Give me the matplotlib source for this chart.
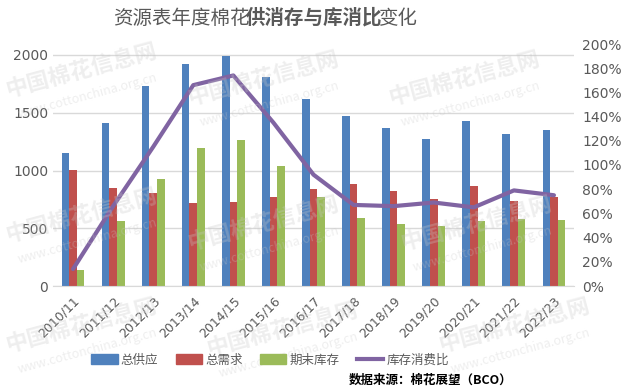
import matplotlib
matplotlib.use("Agg")
import matplotlib.pyplot as plt
import numpy as np
from matplotlib.lines import Line2D
from matplotlib.patches import Patch

plt.rcParams['font.family'] = ['Noto Sans CJK SC', 'DejaVu Sans']

years = ['2010/11', '2011/12', '2012/13', '2013/14', '2014/15', '2015/16', '2016/17',
         '2017/18', '2018/19', '2019/20', '2020/21', '2021/22', '2022/23']
supply = [1150, 1414, 1732, 1923, 1995, 1813, 1619, 1472, 1368, 1273, 1429, 1316, 1354]
demand = [1005, 851, 808, 722, 727, 774, 840, 883, 823, 753, 869, 736, 773]
stock = [140, 563, 929, 1198, 1264, 1042, 773, 589, 540, 520, 563, 583, 572]
ratio = [14, 66, 115, 166, 174, 135, 92, 67, 66, 69, 65, 79, 75]

blue = '#4F81BD'
red = '#C0504D'
green = '#9BBB59'
purple = '#8064A2'
gray = '#595959'

fig = plt.figure(figsize=(6.27, 3.92), dpi=100)

# faint watermarks
for wx, wy in [(0.13, 0.82), (0.42, 0.80), (0.74, 0.80), (0.13, 0.45), (0.42, 0.43),
               (0.76, 0.43), (0.13, 0.17), (0.45, 0.16), (0.82, 0.17)]:
    fig.text(wx, wy, '中国棉花信息网', fontsize=16, fontweight='bold', color='#c8c8c8', alpha=0.3,
             rotation=15, ha='center', va='center', zorder=5)
    fig.text(wx + 0.01, wy - 0.065, 'www.cottonchina.org.cn', fontsize=9, color='#c8c8c8',
             alpha=0.3, rotation=15, ha='center', va='center', zorder=5)

ax = fig.add_axes([53 / 627, 106 / 392, 521 / 627, 242 / 392])
ax.patch.set_alpha(0)
ax2 = ax.twinx()

x = np.arange(len(years))
w = 0.19
ax.bar(x - w, supply, w, color=blue, zorder=2)
ax.bar(x, demand, w, color=red, zorder=2)
ax.bar(x + w, stock, w, color=green, zorder=2)

ax.set_xlim(-0.5, len(years) - 0.5)
ax.set_ylim(0, 2000 * 242 / 231)
ax.set_yticks([0, 500, 1000, 1500, 2000])
ax.grid(axis='y', color='#d9d9d9', linewidth=1, zorder=0)
ax.set_axisbelow(True)
for s in ['top', 'left', 'right']:
    ax.spines[s].set_visible(False)
ax.spines['bottom'].set_color('#d9d9d9')
ax.tick_params(axis='both', length=0, labelsize=10, labelcolor=gray)
ax.set_xticks(x)
ax.set_xticklabels(years, rotation=45, ha='right', rotation_mode='anchor')
ax.tick_params(axis='x', pad=6, labelsize=9)
for lab in ax.get_xticklabels() + ax.get_yticklabels():
    lab.set_fontfamily('DejaVu Sans')

ax2.plot(x, ratio, color=purple, linewidth=3, solid_capstyle='round', zorder=3)
ax2.set_ylim(0, 200)
ax2.set_yticks(range(0, 201, 20))
ax2.set_yticklabels([f'{v}%' for v in range(0, 201, 20)])
for s in ax2.spines.values():
    s.set_visible(False)
ax2.tick_params(axis='y', length=0, labelsize=10, labelcolor=gray, pad=6)
for lab in ax2.get_yticklabels():
    lab.set_fontfamily('DejaVu Sans')

# title with bold middle part
fig.text(113 / 627, 1 - 18 / 392, '资源表年度棉花', fontsize=14, color=gray, va='center', ha='left')
fig.text(246 / 627, 1 - 18 / 392, '供消存与库消比', fontsize=14, color=gray, va='center', ha='left',
         fontweight='bold')
fig.text(379 / 627, 1 - 18 / 392, '变化', fontsize=14, color=gray, va='center', ha='left')

handles = [Patch(color=blue), Patch(color=red), Patch(color=green),
           Line2D([0], [0], color=purple, linewidth=3)]
labels = ['总供应', '总需求', '期末库存', '库存消费比']
fig.legend(handles, labels, loc='center', bbox_to_anchor=(270 / 627, 1 - 360 / 392), ncol=4,
           frameon=False, fontsize=9, handlelength=2.1, handleheight=0.9,
           handletextpad=0.25, columnspacing=1.4, labelcolor=gray)

fig.text(512 / 627, 1 - 380 / 392, '数据来源：棉花展望（BCO）', fontsize=9, color='black',
         ha='right', va='center', fontweight='bold')

fig.savefig('out.png', dpi=100)
